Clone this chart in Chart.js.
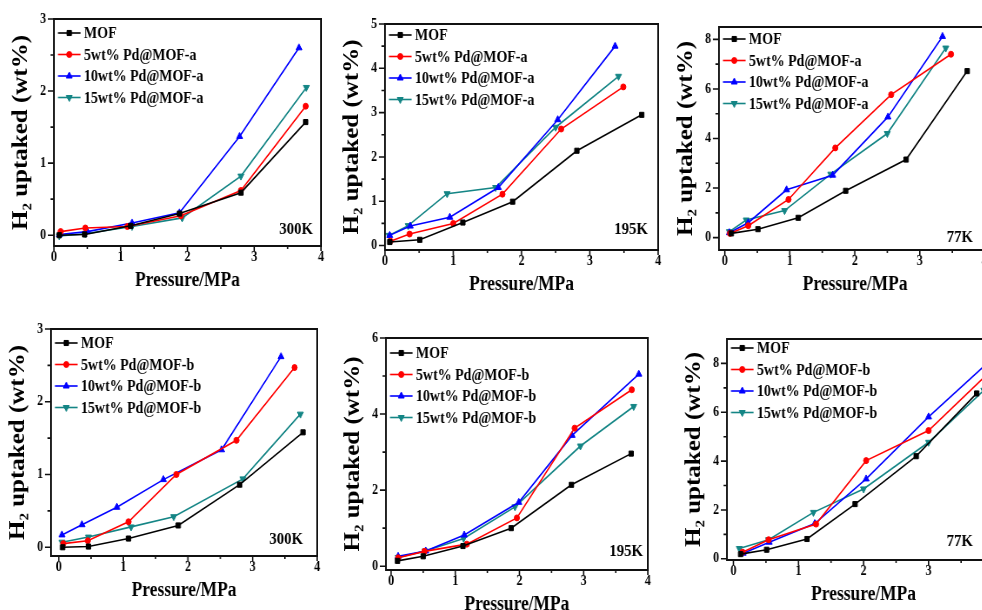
<!DOCTYPE html>
<html>
<head>
<meta charset="utf-8">
<script src="https://cdn.jsdelivr.net/npm/chart.js@4.4.1/dist/chart.umd.min.js"></script>
<style>
  html, body { margin: 0; padding: 0; background: #fff; }
  body { position: relative; width: 982px; height: 610px; overflow: hidden; }
  .panel { position: absolute; transform-origin: 0 0; }
</style>
</head>
<body>
<script>
// H2 uptake (wt%) against pressure (MPa): [pressure, uptake]
const namesA = ['MOF', '5wt% Pd@MOF-a', '10wt% Pd@MOF-a', '15wt% Pd@MOF-a'];
const namesB = ['MOF', '5wt% Pd@MOF-b', '10wt% Pd@MOF-b', '15wt% Pd@MOF-b'];

// MOF-a, 300K
const a300Mof  = [[0.08, 0.0], [0.46, 0.01], [1.15, 0.13], [1.88, 0.30], [2.8, 0.59], [3.77, 1.57]];
const a300Pd5  = [[0.1, 0.05], [0.47, 0.1], [1.1, 0.12], [1.9, 0.27], [2.8, 0.62], [3.77, 1.79]];
const a300Pd10 = [[0.08, 0.01], [0.5, 0.05], [1.17, 0.17], [1.88, 0.31], [2.78, 1.37], [3.67, 2.6]];
const a300Pd15 = [[0.08, -0.01], [0.47, 0.02], [1.17, 0.12], [1.92, 0.24], [2.8, 0.82], [3.78, 2.05]];
// MOF-a, 195K
const a195Mof  = [[0.07, 0.08], [0.51, 0.13], [1.14, 0.52], [1.87, 0.99], [2.81, 2.14], [3.76, 2.95]];
const a195Pd5  = [[0.08, 0.1], [0.36, 0.26], [1.0, 0.5], [1.72, 1.16], [2.58, 2.63], [3.49, 3.58]];
const a195Pd10 = [[0.07, 0.23], [0.37, 0.44], [0.95, 0.64], [1.66, 1.31], [2.53, 2.84], [3.37, 4.5]];
const a195Pd15 = [[0.06, 0.23], [0.34, 0.45], [0.91, 1.17], [1.62, 1.31], [2.5, 2.67], [3.42, 3.82]];
// MOF-a, 77K
const a77Mof  = [[0.1, 0.17], [0.51, 0.34], [1.13, 0.8], [1.86, 1.89], [2.79, 3.15], [3.73, 6.72]];
const a77Pd5  = [[0.08, 0.17], [0.36, 0.48], [0.98, 1.54], [1.7, 3.62], [2.56, 5.77], [3.48, 7.4]];
const a77Pd10 = [[0.07, 0.2], [0.36, 0.6], [0.95, 1.93], [1.66, 2.52], [2.51, 4.87], [3.35, 8.12]];
const a77Pd15 = [[0.07, 0.24], [0.33, 0.71], [0.92, 1.09], [1.63, 2.56], [2.5, 4.2], [3.4, 7.65]];
// MOF-b, 300K
const b300Mof  = [[0.06, 0.0], [0.46, 0.01], [1.08, 0.12], [1.85, 0.3], [2.8, 0.86], [3.78, 1.58]];
const b300Pd5  = [[0.07, 0.05], [0.45, 0.09], [1.08, 0.35], [1.82, 1.0], [2.75, 1.47], [3.65, 2.47]];
const b300Pd10 = [[0.05, 0.17], [0.36, 0.31], [0.9, 0.55], [1.62, 0.93], [2.52, 1.34], [3.44, 2.62]];
const b300Pd15 = [[0.05, 0.07], [0.46, 0.14], [1.12, 0.28], [1.78, 0.42], [2.85, 0.94], [3.74, 1.83]];
// MOF-b, 195K
const b195Mof  = [[0.1, 0.14], [0.5, 0.26], [1.12, 0.53], [1.87, 1.0], [2.81, 2.14], [3.74, 2.96]];
const b195Pd5  = [[0.11, 0.22], [0.52, 0.39], [1.18, 0.58], [1.96, 1.27], [2.86, 3.63], [3.75, 4.64]];
const b195Pd10 = [[0.11, 0.26], [0.54, 0.4], [1.14, 0.82], [1.99, 1.68], [2.82, 3.44], [3.86, 5.05]];
const b195Pd15 = [[0.11, 0.23], [0.53, 0.4], [1.13, 0.73], [1.93, 1.56], [2.95, 3.16], [3.78, 4.2]];
// MOF-b, 77K
const b77Mof  = [[0.11, 0.19], [0.51, 0.37], [1.13, 0.81], [1.87, 2.24], [2.81, 4.2], [3.74, 6.77]];
const b77Pd5  = [[0.14, 0.27], [0.54, 0.78], [1.27, 1.42], [2.04, 4.02], [3.0, 5.25], [3.9, 7.55]];
const b77Pd10 = [[0.15, 0.23], [0.55, 0.68], [1.25, 1.44], [2.04, 3.27], [3.0, 5.81], [3.9, 8.0]];
const b77Pd15 = [[0.09, 0.42], [0.54, 0.78], [1.23, 1.9], [2.0, 2.86], [3.0, 4.77], [3.85, 6.9]];

// tick values
const xTicks = [0, 1, 2, 3, 4];
const xMinor = [0.5, 1.5, 2.5, 3.5];
const yTicks3 = [0, 1, 2, 3];
const yMinor3 = [0.5, 1.5, 2.5];
const yTicks5 = [0, 1, 2, 3, 4, 5];
const yMinor5 = [0.5, 1.5, 2.5, 3.5, 4.5];
const yTicks6 = [0, 2, 4, 6];
const yMinor6 = [1, 3, 5];
const yTicks8 = [0, 2, 4, 6, 8];
const yMinor8 = [1, 3, 5, 7];

// looks
const colors = ['#000000', '#ff0000', '#0000ff', '#148585'];
const styles = [
  { pointStyle: 'rect', pointRadius: 3.6, pointRotation: 0 },
  { pointStyle: 'circle', pointRadius: 3, pointRotation: 0 },
  { pointStyle: 'triangle', pointRadius: 4, pointRotation: 0 },
  { pointStyle: 'triangle', pointRadius: 4, pointRotation: 180 }
];
const FONT = '"Liberation Serif", "Times New Roman", serif';
const K = 0.87;          // the original figure is squeezed sideways
const Y_W = 62, X_H = 54, PAD_T = 19, PAD_R = 10;

// frame = [left, right, top, bottom] of the plot box on the page
const panels = [
  { names: namesA, series: [a300Mof, a300Pd5, a300Pd10, a300Pd15], temp: '300K',
    xr: [0, 4], yr: [-0.15, 3], yTicks: yTicks3, yMinor: yMinor3,
    frame: [54, 321, 19, 246], legTop: 14, tpos: [313, 230] },
  { names: namesA, series: [a195Mof, a195Pd5, a195Pd10, a195Pd15], temp: '195K',
    xr: [0, 4], yr: [-0.1, 5], yTicks: yTicks5, yMinor: yMinor5,
    frame: [385, 658, 24, 250], legTop: 11, tpos: [648, 230] },
  { names: namesA, series: [a77Mof, a77Pd5, a77Pd10, a77Pd15], temp: '77K',
    xr: [-0.09, 4.1], yr: [-0.5, 8.5], yTicks: yTicks8, yMinor: yMinor8,
    frame: [719, 991, 27, 250], legTop: 12, tpos: [973, 238] },
  { names: namesB, series: [b300Mof, b300Pd5, b300Pd10, b300Pd15], temp: '300K',
    xr: [-0.12, 4], yr: [-0.12, 3], yTicks: yTicks3, yMinor: yMinor3,
    frame: [51, 317, 329, 556], legTop: 14, tpos: [303, 540] },
  { names: namesB, series: [b195Mof, b195Pd5, b195Pd10, b195Pd15], temp: '195K',
    xr: [-0.08, 4], yr: [-0.1, 6], yTicks: yTicks6, yMinor: yMinor6,
    frame: [386, 648, 338, 570], legTop: 15, tpos: [643, 552] },
  { names: namesB, series: [b77Mof, b77Pd5, b77Pd10, b77Pd15], temp: '77K',
    xr: [-0.1, 4.1], yr: [-0.05, 9], yTicks: yTicks8, yMinor: yMinor8,
    frame: [727, 1000, 339, 560], legTop: 9, tpos: [973, 542] }
];

function marker(ctx, st, x, y) {
  const r = st.pointRadius;
  ctx.beginPath();
  if (st.pointStyle === 'rect') {
    const s = r * Math.SQRT1_2;
    ctx.rect(x - s, y - s, 2 * s, 2 * s);
  } else if (st.pointStyle === 'circle') {
    ctx.arc(x, y, r, 0, Math.PI * 2);
  } else {
    const d = st.pointRotation ? -1 : 1;
    ctx.moveTo(x, y - d * r);
    ctx.lineTo(x + r * 0.866, y + d * r * 0.5);
    ctx.lineTo(x - r * 0.866, y + d * r * 0.5);
    ctx.closePath();
  }
  ctx.fill();
  ctx.stroke();
}

// frame, outward ticks, inset legend and temperature label
const decor = {
  id: 'decor',
  afterDraw(chart, args, o) {
    const { ctx, chartArea: a, scales: { x, y } } = chart;
    ctx.save();
    ctx.strokeStyle = '#111';
    ctx.lineWidth = 1.6;
    ctx.beginPath();
    xTicks.forEach(v => { const p = x.getPixelForValue(v); ctx.moveTo(p, a.bottom); ctx.lineTo(p, a.bottom + 5); });
    xMinor.forEach(v => { const p = x.getPixelForValue(v); ctx.moveTo(p, a.bottom); ctx.lineTo(p, a.bottom + 3); });
    o.yTicks.forEach(v => { const p = y.getPixelForValue(v); ctx.moveTo(a.left, p); ctx.lineTo(a.left - 7, p); });
    o.yMinor.forEach(v => { const p = y.getPixelForValue(v); ctx.moveTo(a.left, p); ctx.lineTo(a.left - 4, p); });
    ctx.stroke();
    ctx.lineWidth = 2;
    ctx.strokeRect(a.left, a.top, a.right - a.left, a.bottom - a.top);

    ctx.font = 'bold 16px ' + FONT;
    ctx.textBaseline = 'middle';
    ctx.textAlign = 'left';
    chart.data.datasets.forEach((ds, i) => {
      const yy = a.top + o.legTop + i * 21.5;
      const x0 = a.left + 4 / K;
      ctx.strokeStyle = ds.borderColor;
      ctx.fillStyle = ds.borderColor;
      ctx.lineWidth = 1.6;
      ctx.beginPath(); ctx.moveTo(x0, yy); ctx.lineTo(x0 + 26, yy); ctx.stroke();
      ctx.lineWidth = 1;
      marker(ctx, styles[i], x0 + 13, yy);
      ctx.fillStyle = '#000';
      ctx.fillText(ds.label, x0 + 30, yy + 1);
    });

    ctx.font = 'bold 17px ' + FONT;
    ctx.textAlign = 'right';
    ctx.fillStyle = '#000';
    ctx.fillText(o.temp, (o.tpos[0] - o.ox) / K, o.tpos[1] - o.oy);
    ctx.restore();
  }
};

panels.forEach(p => {
  const [fl, fr, ft, fb] = p.frame;
  const ox = fl - Y_W * K, oy = ft - PAD_T;
  const w = Math.round(Y_W + (fr - fl) / K + PAD_R);
  const h = fb - ft + PAD_T + X_H;
  const div = document.createElement('div');
  div.className = 'panel';
  div.style.left = ox + 'px';
  div.style.top = oy + 'px';
  div.style.transform = 'scaleX(' + K + ')';
  const cv = document.createElement('canvas');
  cv.width = w; cv.height = h;
  div.appendChild(cv);
  document.body.appendChild(div);

  new Chart(cv, {
    type: 'line',
    data: {
      datasets: p.series.map((s, i) => ({
        label: p.names[i],
        data: s.map(([px, py]) => ({ x: px, y: py })),
        borderColor: colors[i],
        backgroundColor: colors[i],
        pointBackgroundColor: colors[i],
        pointBorderColor: colors[i],
        pointBorderWidth: 1,
        borderWidth: 1.6,
        tension: 0,
        ...styles[i]
      }))
    },
    options: {
      responsive: false,
      devicePixelRatio: 1,
      animation: false,
      events: [],
      layout: { padding: { left: 0, top: PAD_T, right: PAD_R, bottom: 0 } },
      scales: {
        x: {
          type: 'linear', min: p.xr[0], max: p.xr[1],
          afterBuildTicks: s => { s.ticks = xTicks.map(v => ({ value: v })); },
          afterFit: s => { s.height = X_H; },
          grid: { display: false, drawTicks: false },
          border: { display: false },
          ticks: { color: '#000', padding: 3, maxRotation: 0, font: { family: FONT, size: 14, weight: 'bold' } },
          title: { display: true, text: 'Pressure/MPa', color: '#000', padding: { top: 0, bottom: 7 },
                   font: { family: FONT, size: 20, weight: 'bold' } }
        },
        y: {
          type: 'linear', min: p.yr[0], max: p.yr[1],
          afterBuildTicks: s => { s.ticks = p.yTicks.map(v => ({ value: v })); },
          afterFit: s => { s.width = Y_W; },
          grid: { display: false, drawTicks: false },
          border: { display: false },
          ticks: { color: '#000', padding: 9, font: { family: FONT, size: 14, weight: 'bold' } },
          title: { display: true, text: 'H₂ uptaked (wt%)', color: '#000', padding: { top: 10, bottom: 0 },
                   font: { family: FONT, size: 25, weight: 'bold' } }
        }
      },
      plugins: {
        legend: { display: false },
        tooltip: { enabled: false },
        decor: { yTicks: p.yTicks, yMinor: p.yMinor, legTop: p.legTop, temp: p.temp, tpos: p.tpos, ox: ox, oy: oy }
      }
    },
    plugins: [decor]
  });
});
</script>
</body>
</html>
